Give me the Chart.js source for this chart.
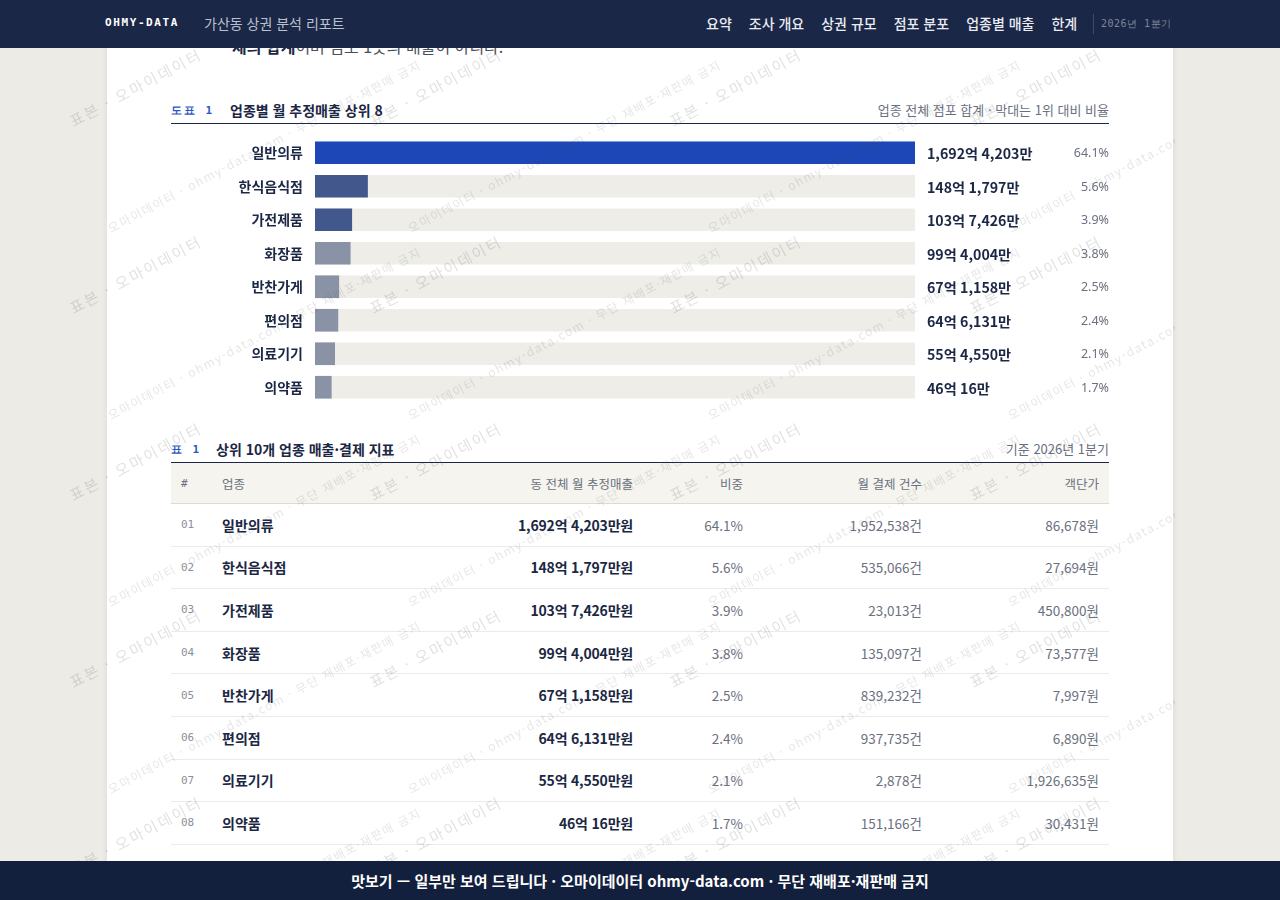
<!DOCTYPE html>
<html lang="ko">
<head>
<meta charset="utf-8">
<title>가산동 상권 분석 리포트</title>
<script src="https://cdn.jsdelivr.net/npm/chart.js@4.4.1/dist/chart.umd.min.js"></script>
<style>
  html, body { margin: 0; padding: 0; }
  body {
    width: 1280px; height: 900px; overflow: hidden; position: relative;
    background: #ecebe5;
    font-family: "Noto Sans CJK KR", "Noto Sans", sans-serif;
    color: #1b2744;
  }
  .card {
    position: absolute; left: 107px; top: 0; width: 1066px; height: 900px;
    background: #fff; box-shadow: 0 0 6px rgba(0,0,0,0.08);
  }
  .lead {
    position: absolute; left: 232px; top: 34px; font-size: 16px; color: #4a4f5c; white-space: nowrap;
  }
  .lead b { color: #1b2744; }
  .head {
    position: absolute; left: 171px; width: 938px; height: 20px;
    border-bottom: 1px solid #1b2744;
  }
  .head .no {
    position: absolute; left: 0; top: 0; font-family: "DejaVu Sans Mono", monospace;
    font-size: 11px; font-weight: bold; color: #2b57c4; letter-spacing: 2px;
  }
  .head .ttl { position: absolute; top: -3px; font-size: 14px; font-weight: bold; color: #1b2744; }
  .head .cap { position: absolute; right: 0; top: -3px; font-size: 13px; color: #6b7080; }
  #chartBox { position: absolute; left: 171px; top: 136px; width: 938px; height: 268px; }
  table {
    position: absolute; left: 171px; top: 463px; width: 938px;
    border-collapse: collapse; table-layout: fixed;
  }
  th {
    height: 40px; padding: 0 10px; background: #f5f4ef; font-weight: normal;
    font-size: 12.5px; color: #6b7080; border-bottom: 1px solid #dddbd3;
  }
  td { height: 41.6px; padding: 0 10px; border-bottom: 1px solid #ecebe6; font-size: 13.5px; color: #6b7080; }
  th, td { text-align: right; white-space: nowrap; }
  .l { text-align: left; }
  td.num { font-family: "DejaVu Sans Mono", monospace; font-size: 11px; color: #8a8f9c; }
  th.num { font-family: "DejaVu Sans Mono", monospace; font-size: 11px; }
  td.nm, td.amt { font-weight: bold; color: #1b2744; font-size: 14px; }
  td.amt { letter-spacing: -0.2px; }
  .wm {
    position: absolute; left: 0; top: 0; width: 1280px; height: 900px; pointer-events: none; overflow: hidden;
    clip-path: inset(0 105px 0 60px);
  }
  .wm span {
    position: absolute; white-space: nowrap; color: rgba(90, 90, 90, 0.18);
    transform: rotate(-28deg); transform-origin: 0 100%;
  }
  .wm .a { font-size: 15px; letter-spacing: 2.2px; line-height: 18px; }
  .wm .b { font-size: 12px; letter-spacing: 1.5px; line-height: 14px; color: rgba(90, 90, 90, 0.15); }
  .top {
    position: absolute; left: 0; top: 0; width: 1280px; height: 48px; background: #1b2746;
  }
  .top .in { position: absolute; left: 105px; top: 0; width: 1068px; height: 48px; overflow: hidden; }
  .brand {
    position: absolute; left: 0; top: 16px; font-family: "DejaVu Sans Mono", monospace;
    font-size: 11px; font-weight: bold; color: #fff; letter-spacing: 1.6px;
  }
  .sub { position: absolute; left: 99px; top: 13px; font-size: 14px; color: #b9c0d0; }
  .nav { position: absolute; left: 601px; top: 13px; display: flex; gap: 17px; font-size: 14px; color: #e9ecf3; font-weight: 500; white-space: nowrap; }
  .sep { position: absolute; left: 988px; top: 14px; width: 1px; height: 20px; background: #3d4a6a; }
  .qtr { position: absolute; left: 996px; top: 17px; font-family: "DejaVu Sans Mono", monospace; font-size: 10px; color: #7d869c; white-space: nowrap; letter-spacing: 0.5px; }
  .foot {
    position: absolute; left: 0; bottom: 0; width: 1280px; height: 39px; background: #13203d;
    color: #fff; font-size: 15px; font-weight: bold; text-align: center; line-height: 39px;
  }
</style>
</head>
<body>
<div class="card"></div>
<div class="lead"><b>체의 합계</b>이며 점포 1곳의 매출이 아니다.</div>

<div class="head" style="top:103px">
  <span class="no">도표 1</span>
  <span class="ttl" style="left:59px">업종별 월 추정매출 상위 8</span>
  <span class="cap">업종 전체 점포 합계 · 막대는 1위 대비 비율</span>
</div>
<div id="chartBox"><canvas id="salesChart"></canvas></div>

<div class="head" style="top:442px">
  <span class="no">표 1</span>
  <span class="ttl" style="left:45px">상위 10개 업종 매출·결제 지표</span>
  <span class="cap">기준 2026년 1분기</span>
</div>
<table>
  <colgroup>
    <col style="width:41px"><col style="width:218px"><col style="width:213px">
    <col style="width:110px"><col style="width:179px"><col style="width:177px">
  </colgroup>
  <thead>
    <tr><th class="l num">#</th><th class="l">업종</th><th>동 전체 월 추정매출</th><th>비중</th><th>월 결제 건수</th><th>객단가</th></tr>
  </thead>
  <tbody id="rows"></tbody>
</table>

<div class="wm" id="wm"></div>

<div class="top">
  <div class="in">
    <span class="brand">OHMY-DATA</span>
    <span class="sub">가산동 상권 분석 리포트</span>
    <div class="nav"><span>요약</span><span>조사 개요</span><span>상권 규모</span><span>점포 분포</span><span>업종별 매출</span><span>한계</span></div>
    <span class="sep"></span>
    <span class="qtr">2026년 1분기</span>
  </div>
</div>
<div class="foot">맛보기 — 일부만 보여 드립니다 · 오마이데이터 ohmy-data.com · 무단 재배포·재판매 금지</div>

<script>
// 업종 (상위 8)
const categories = ['일반의류', '한식음식점', '가전제품', '화장품', '반찬가게', '편의점', '의료기기', '의약품'];
// 동 전체 월 추정매출 (억 원)
const salesEok = [1692.4203, 148.1797, 103.7426, 99.4004, 67.1158, 64.6131, 55.4550, 46.0016];
// 비중 (%)
const shares = [64.1, 5.6, 3.9, 3.8, 2.5, 2.4, 2.1, 1.7];
// 월 결제 건수
const payCounts = [1952538, 535066, 23013, 135097, 839232, 937735, 2878, 151166];
// 객단가 (원)
const unitPrices = [86678, 27694, 450800, 73577, 7997, 6890, 1926635, 30431];

const fmt = n => n.toLocaleString('en-US');
// 1692.4203 -> "1,692억 4,203만"
function eokMan(v) {
  const eok = Math.floor(v);
  const man = Math.round((v - eok) * 10000);
  return fmt(eok) + '억 ' + fmt(man) + '만';
}

const barColors = salesEok.map((v, i) => i === 0 ? '#1d47b7' : (i < 3 ? '#42578c' : '#8a92a6'));
const track = categories.map(() => salesEok[0]);

// 막대 오른쪽 금액·비중 글자
const valueLabels = {
  id: 'valueLabels',
  afterDatasetsDraw(chart) {
    const { ctx, chartArea } = chart;
    const meta = chart.getDatasetMeta(0);
    ctx.save();
    ctx.textBaseline = 'middle';
    meta.data.forEach((bar, i) => {
      ctx.fillStyle = '#1b2744';
      ctx.font = 'bold 14.2px "Noto Sans CJK KR", "Noto Sans", sans-serif';
      ctx.textAlign = 'left';
      ctx.fillText(eokMan(salesEok[i]), chartArea.right + 12, bar.y + 1);
      ctx.fillStyle = '#6b7080';
      ctx.font = '12.5px "Noto Sans", "Noto Sans CJK KR", sans-serif';
      ctx.textAlign = 'right';
      ctx.fillText(shares[i].toFixed(1) + '%', chart.width, bar.y + 1);
    });
    ctx.restore();
  }
};

const ctx = document.getElementById('salesChart').getContext('2d');
const salesChart = new Chart(ctx, {
  type: 'bar',
  data: {
    labels: categories,
    datasets: [{
      data: salesEok,
      backgroundColor: barColors,
      barThickness: 22,
      grouped: false,
      order: 1
    }, {
      data: track,
      backgroundColor: '#eeede8',
      barThickness: 22,
      grouped: false,
      order: 2
    }]
  },
  options: {
    indexAxis: 'y',
    responsive: true,
    maintainAspectRatio: false,
    animation: false,
    layout: { padding: { left: 0, right: 194, top: 0, bottom: 0 } },
    plugins: { legend: { display: false }, tooltip: { enabled: false } },
    scales: {
      x: { display: false, min: 0, max: salesEok[0] },
      y: {
        grid: { display: false, drawTicks: false },
        border: { display: false },
        afterFit: s => { s.width = 144; s.paddingTop = 0; s.paddingBottom = 0; },
        ticks: {
          padding: 12,
          color: '#1b2744',
          font: { size: 14, weight: 'bold', family: '"Noto Sans CJK KR", "Noto Sans", sans-serif' }
        }
      }
    }
  },
  plugins: [valueLabels]
});

// 표 1
const tbody = document.getElementById('rows');
categories.forEach((name, i) => {
  const tr = document.createElement('tr');
  tr.innerHTML =
    '<td class="l num">' + String(i + 1).padStart(2, '0') + '</td>' +
    '<td class="l nm">' + name + '</td>' +
    '<td class="amt">' + eokMan(salesEok[i]) + '원</td>' +
    '<td>' + shares[i].toFixed(1) + '%</td>' +
    '<td>' + fmt(payCounts[i]) + '건</td>' +
    '<td>' + fmt(unitPrices[i]) + '원</td>';
  tbody.appendChild(tr);
});

// 워터마크
const wm = document.getElementById('wm');
for (let y = -57; y < 1100; y += 187) {
  for (let x = 75; x < 1200; x += 300) {
    const a = document.createElement('span');
    a.className = 'a';
    a.textContent = '표본 · 오마이데이터';
    a.style.left = x + 'px';
    a.style.top = (y - 18) + 'px';
    wm.appendChild(a);
    const b = document.createElement('span');
    b.className = 'b';
    b.textContent = '오마이데이터 · ohmy-data.com · 무단 재배포·재판매 금지';
    b.style.left = (x + 37) + 'px';
    b.style.top = (y + 105 - 14) + 'px';
    wm.appendChild(b);
  }
}
</script>
</body>
</html>
